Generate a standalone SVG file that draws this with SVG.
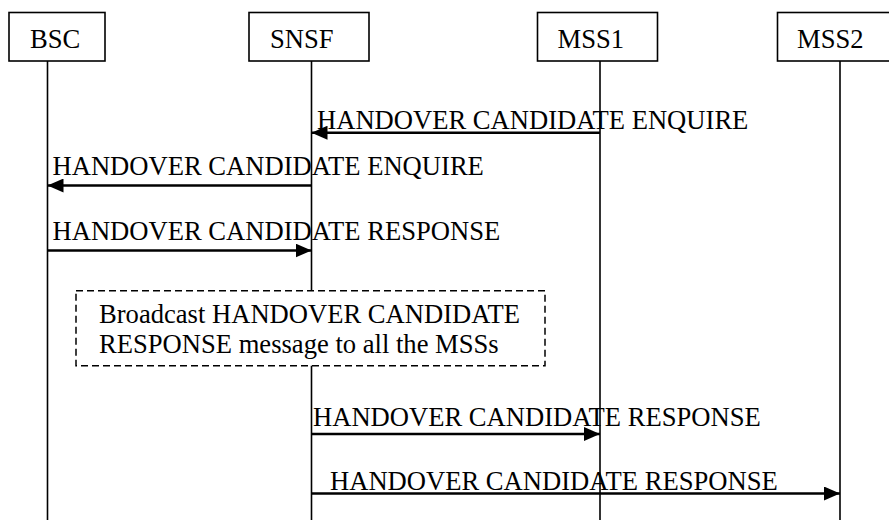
<svg xmlns="http://www.w3.org/2000/svg" width="889" height="520" viewBox="0 0 889 520">
<style>
.t{font-family:"Liberation Serif","Times New Roman",serif;font-size:26.6px;fill:#000}
.box{fill:#fff;stroke:#000;stroke-width:1.6}
.life{stroke:#000;stroke-width:1.6;fill:none}
.msg{stroke:#000;stroke-width:2.4;fill:none;marker-end:url(#ah)}
.note{fill:#fff;stroke:#000;stroke-width:1.5;stroke-dasharray:7 4}
</style>
<defs>
<marker id="ah" markerUnits="userSpaceOnUse" markerWidth="17" markerHeight="14" refX="16" refY="7" orient="auto">
<path d="M0,0 L16,7 L0,14 Z" fill="#000"/>
</marker>
</defs>
<g id="lifelines">
<line class="life" x1="47.5" y1="61" x2="47.5" y2="520"/>
<line class="life" x1="311.5" y1="61" x2="311.5" y2="520"/>
<line class="life" x1="600" y1="61" x2="600" y2="520"/>
<line class="life" x1="840" y1="61" x2="840" y2="520"/>
</g>
<g id="BSC"><rect class="box" x="9" y="12.5" width="96" height="48.5"/><text class="t" x="30" y="48.3">BSC</text></g>
<g id="SNSF"><rect class="box" x="249" y="12.5" width="120" height="48.5"/><text class="t" x="270" y="48.3">SNSF</text></g>
<g id="MSS1"><rect class="box" x="537.5" y="12.5" width="120" height="48.5"/><text class="t" x="557.5" y="48.3">MSS1</text></g>
<g id="MSS2"><rect class="box" x="777.5" y="12.5" width="120" height="48.5"/><text class="t" x="797" y="48.3">MSS2</text></g>
<g id="connectors">
<line class="msg" x1="600" y1="132.7" x2="311.5" y2="132.7"/>
<line class="msg" x1="311.5" y1="185.5" x2="47.5" y2="185.5"/>
<line class="msg" x1="47.5" y1="250.5" x2="311.5" y2="250.5"/>
<line class="msg" x1="311.5" y1="434" x2="600" y2="434"/>
<line class="msg" x1="311.5" y1="493.5" x2="840" y2="493.5"/>
</g>
<g id="labels">
<text class="t" x="317" y="129.3">HANDOVER CANDIDATE ENQUIRE</text>
<text class="t" x="52.5" y="175">HANDOVER CANDIDATE ENQUIRE</text>
<text class="t" x="52.5" y="240">HANDOVER CANDIDATE RESPONSE</text>
<text class="t" x="313" y="426">HANDOVER CANDIDATE RESPONSE</text>
<text class="t" x="330" y="490">HANDOVER CANDIDATE RESPONSE</text>
</g>
<g id="broadcast-note">
<rect class="note" x="76" y="290.7" width="469" height="75"/>
<text class="t" x="99" y="323">Broadcast HANDOVER CANDIDATE</text>
<text class="t" x="99" y="353">RESPONSE message to all the MSSs</text>
</g>
</svg>
